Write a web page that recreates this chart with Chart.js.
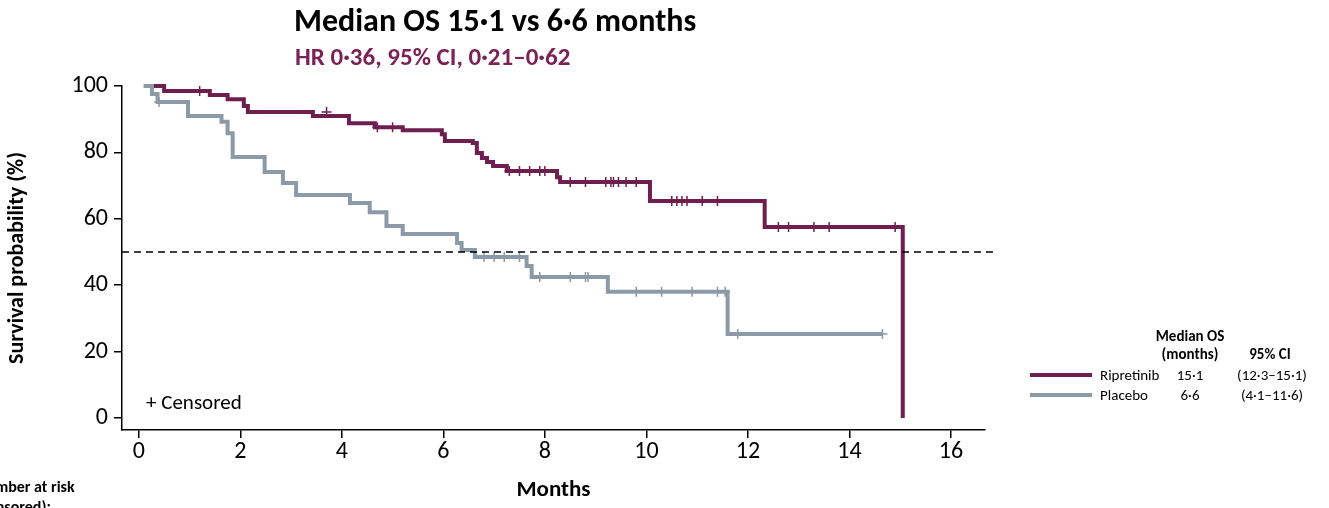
<!DOCTYPE html>
<html><head><meta charset="utf-8">
<script src="https://cdn.jsdelivr.net/npm/chart.js@4.4.0/dist/chart.umd.min.js"></script>
<style>
body{margin:0;width:1329px;height:508px;overflow:hidden;background:#fff;font-family:Carlito,"Open Sans",sans-serif;position:relative}
.t{position:absolute;white-space:nowrap}
</style></head><body>
<canvas id="c" width="1329" height="508" style="position:absolute;left:0;top:0"></canvas>
<div class="t" style="left:294px;top:1px;font-size:32px;font-weight:bold;color:#000">Median OS 15·1 vs 6·6 months</div>
<div class="t" style="left:295px;top:41px;font-size:25px;font-weight:bold;color:#7b2357">HR 0·36, 95% CI, 0·21–0·62</div>
<div class="t" style="left:146px;top:389px;font-size:21px">+ Censored</div>
<div class="t" style="left:-24px;top:477px;font-size:16px;font-weight:bold">Number at risk</div>
<div class="t" style="left:-24px;top:497px;font-size:16px;font-weight:bold">(censored):</div>
<div class="t" style="left:1140px;top:327px;width:100px;text-align:center;font-size:15px;font-weight:bold;line-height:18px">Median OS<br>(months)</div>
<div class="t" style="left:1230px;top:345px;width:80px;text-align:center;font-size:15px;font-weight:bold">95% CI</div>
<div style="position:absolute;left:1030px;top:373px;width:62px;height:4px;background:#6e1f4f"></div>
<div style="position:absolute;left:1030px;top:393px;width:62px;height:4px;background:#8b9aa6"></div>
<div class="t" style="left:1100px;top:366px;font-size:15px">Ripretinib</div>
<div class="t" style="left:1100px;top:386px;font-size:15px">Placebo</div>
<div class="t" style="left:1150px;top:366px;width:80px;text-align:center;font-size:15px">15·1</div>
<div class="t" style="left:1150px;top:386px;width:80px;text-align:center;font-size:15px">6·6</div>
<div class="t" style="left:1230px;top:366px;width:84px;text-align:center;font-size:15px">(12·3–15·1)</div>
<div class="t" style="left:1230px;top:386px;width:84px;text-align:center;font-size:15px">(4·1–11·6)</div>
<script>
const RIP_T = [0.1,0.5,1.4,1.75,2.07,2.15,3.43,4.14,4.65,5.2,5.97,6.03,6.58,6.66,6.76,6.86,6.98,7.25,8.24,8.3,10.07,12.33,15.05,15.05];
const RIP_S = [100,98.5,97.3,96,94,92.2,91,88.8,87.6,86.7,85.5,83.4,82.8,79.8,78.3,77.1,75.9,74.4,72.5,71.1,65.4,57.5,57.5,0];
const RIP_CT = [1.2,3.7,4.7,5.0,7.3,7.5,7.7,7.9,8.0,8.5,8.8,9.2,9.3,9.35,9.45,9.6,9.8,10.5,10.6,10.7,10.8,11.1,11.4,12.6,12.8,13.3,13.6,14.9];
const RIP_CS = [98.5,92.2,87.6,87.6,74.4,74.4,74.4,74.4,74.4,71.1,71.1,71.1,71.1,71.1,71.1,71.1,71.1,65.4,65.4,65.4,65.4,65.4,65.4,57.5,57.5,57.5,57.5,57.5];
const PLA_T = [0.1,0.26,0.37,0.97,1.63,1.75,1.85,2.48,2.84,3.1,4.16,4.55,4.88,5.2,6.27,6.36,6.62,7.64,7.74,9.24,11.6,14.66];
const PLA_S = [100,97.6,95.2,91,89.2,85.8,78.6,74.1,70.8,67.2,64.8,62,57.8,55.4,52.7,50.6,48.5,45.8,42.5,38,25.3,25.3];
const PLA_CT = [0.4,6.8,7.0,7.2,7.5,7.9,8.5,8.8,8.85,9.8,10.3,10.9,11.4,11.55,11.8,14.65];
const PLA_CS = [95.2,48.5,48.5,48.5,48.5,42.5,42.5,42.5,42.5,38,38,38,38,38,25.3,25.3];
const X_TICKS = [0,2,4,6,8,10,12,14,16];
const Y_TICKS = [0,20,40,60,80,100];

const RIP = '#6e1f4f', PLA = '#8b9aa6';
const FONT = 'Carlito, "Open Sans"';
const pts = (xs, ys) => xs.map((x, i) => ({x, y: ys[i]}));
const censor = (xs, ys, c) => ({type:'scatter', data: pts(xs, ys), pointStyle:'cross',
  pointRadius:5, borderColor:c, borderWidth:1.5, showLine:false, pointHoverRadius:5});

new Chart(document.getElementById('c'), {
  type: 'line',
  data: { datasets: [
    {data: [{x:-0.33,y:50},{x:16.85,y:50}], borderColor:'#000', borderWidth:1.5, borderDash:[7,5], pointRadius:0},
    {data: pts(PLA_T, PLA_S), stepped:'before', borderColor:PLA, borderWidth:4, pointRadius:0},
    censor(PLA_CT, PLA_CS, PLA),
    {data: pts(RIP_T, RIP_S), stepped:'before', borderColor:RIP, borderWidth:4, pointRadius:0},
    censor(RIP_CT, RIP_CS, RIP)
  ]},
  options: {
    responsive:false, animation:false, clip:false,
    layout:{padding:{top:86, right:344, left:0, bottom:0}},
    plugins:{legend:{display:false}, tooltip:{enabled:false}},
    scales:{
      x:{type:'linear', min:-0.33, max:16.67,
        afterBuildTicks: s => { s.ticks = X_TICKS.map(v => ({value:v})); },
        afterFit: s => { s.height = 78; },
        grid:{drawOnChartArea:false, drawTicks:true, tickLength:8, color:'#000', lineWidth:1.5},
        border:{color:'#000', width:1.5},
        ticks:{color:'#000', font:{size:24, family:FONT}, padding:0, maxRotation:0},
        title:{display:true, text:'Months', color:'#000', font:{size:23, weight:'bold', family:FONT}, padding:{top:2}}
      },
      y:{min:-3.6, max:100,
        afterBuildTicks: s => { s.ticks = Y_TICKS.map(v => ({value:v})); },
        afterFit: s => { s.width = 122; },
        grid:{drawOnChartArea:false, drawTicks:true, tickLength:8, color:'#000', lineWidth:1.5},
        border:{color:'#000', width:1.5},
        ticks:{color:'#000', font:{size:24, family:FONT}, padding:6},
        title:{display:true, text:'Survival probability (%)', color:'#000', font:{size:22, weight:'bold', family:FONT}, padding:{bottom:2}}
      }
    }
  }
});
</script>
</body></html>
